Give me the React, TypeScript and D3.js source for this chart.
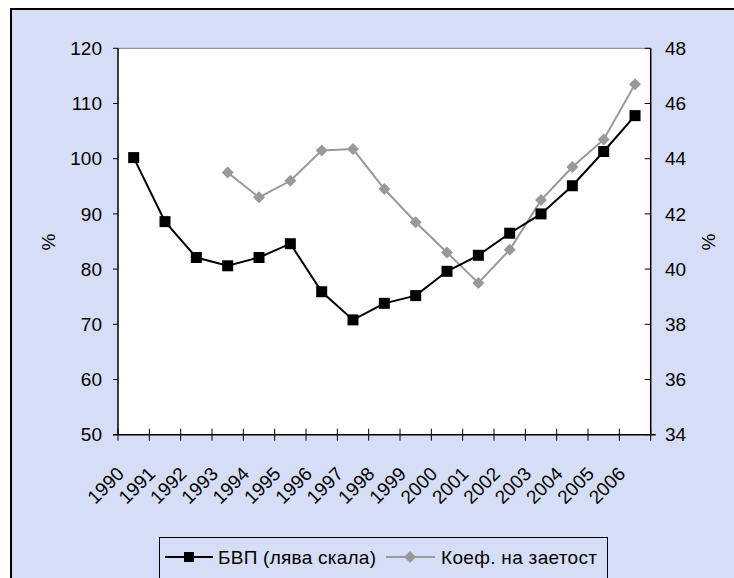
import React from "react";
import * as d3 from "d3";

const years = ["1990","1991","1992","1993","1994","1995","1996","1997","1998","1999","2000","2001","2002","2003","2004","2005","2006"];
const gdp: (number | null)[] = [100.2, 88.6, 82.1, 80.6, 82.1, 84.6, 75.9, 70.8, 73.8, 75.2, 79.6, 82.5, 86.5, 90.0, 95.1, 101.3, 107.8];
const employment: (number | null)[] = [null, null, null, 43.5, 42.6, 43.2, 44.3, 44.35, 42.9, 41.7, 40.6, 39.5, 40.7, 42.5, 43.7, 44.7, 46.7];
const leftTicks = [50, 60, 70, 80, 90, 100, 110, 120];
const rightTicks = [34, 36, 38, 40, 42, 44, 46, 48];
const legendLabels = ["БВП (лява скала)", "Коеф. на заетост"];

const W = 734, H = 578;
const L = 118, R = 650.7, T = 48.3, B = 434.7;
const BG = "#D6DEF7";
const GRAY = "#999999";
const FONT = "Arial, 'Liberation Sans', sans-serif";
const FS = 19;

export default function App() {
  const x = d3.scaleBand<string>().domain(years).range([L, R]);
  const yL = d3.scaleLinear().domain([50, 120]).range([B, T]);
  const yR = d3.scaleLinear().domain([34, 48]).range([B, T]);
  const cx = (i: number) => (x(years[i]) as number) + x.bandwidth() / 2;

  const lineL = d3.line<number | null>()
    .defined(d => d != null)
    .x((_, i) => cx(i))
    .y(d => yL(d as number));
  const lineR = d3.line<number | null>()
    .defined(d => d != null)
    .x((_, i) => cx(i))
    .y(d => yR(d as number));

  const boundaries = d3.range(years.length + 1).map(i => L + i * x.step());

  return (
    <svg width={W} height={H} style={{ position: "absolute", left: 0, top: 0 }} fontFamily={FONT}>
      <rect x={11} y={9} width={W + 20} height={H + 20} fill={BG} stroke="#000" strokeWidth={2} />
      <rect x={L} y={T} width={R - L} height={B - T} fill="#fff" />
      <line x1={L} x2={R} y1={T} y2={T} stroke="#808080" strokeWidth={1} />
      {/* axes */}
      <line x1={L} x2={L} y1={T} y2={B} stroke="#000" strokeWidth={1.5} />
      <line x1={R} x2={R} y1={T} y2={B} stroke="#000" strokeWidth={1.5} />
      <line x1={L - 5} x2={R + 5} y1={B} y2={B} stroke="#000" strokeWidth={1.5} />
      {leftTicks.map(t => (
        <g key={"l" + t}>
          <line x1={L - 5} x2={L} y1={yL(t)} y2={yL(t)} stroke="#000" strokeWidth={1} />
          <text x={102} y={yL(t)} dy="0.35em" textAnchor="end" fontSize={FS} fill="#000">{t}</text>
        </g>
      ))}
      {rightTicks.map(t => (
        <g key={"r" + t}>
          <line x1={R - 6} x2={R} y1={yR(t)} y2={yR(t)} stroke="#000" strokeWidth={1} />
          <text x={665} y={yR(t)} dy="0.35em" textAnchor="start" fontSize={FS} fill="#000">{t}</text>
        </g>
      ))}
      {boundaries.map((bx, i) => (
        <line key={"xt" + i} x1={bx} x2={bx} y1={B - 6} y2={B + 6} stroke="#000" strokeWidth={1} />
      ))}
      {years.map((yr, i) => (
        <text key={yr} transform={`translate(${cx(i) - 8.5},${475}) rotate(-45)`} textAnchor="end" fontSize={FS} fill="#000">{yr}</text>
      ))}
      <text transform="translate(48,242) rotate(-90)" textAnchor="middle" dy="0.35em" fontSize={FS}>%</text>
      <text transform="translate(708,242) rotate(-90)" textAnchor="middle" dy="0.35em" fontSize={FS}>%</text>
      {/* series */}
      <path d={lineR(employment) || ""} fill="none" stroke={GRAY} strokeWidth={2} />
      <path d={lineL(gdp) || ""} fill="none" stroke="#000" strokeWidth={2} />
      {employment.map((v, i) => v == null ? null : (
        <path key={"e" + i} d={`M${cx(i)},${yR(v) - 6}L${cx(i) + 6},${yR(v)}L${cx(i)},${yR(v) + 6}L${cx(i) - 6},${yR(v)}Z`} fill={GRAY} />
      ))}
      {gdp.map((v, i) => v == null ? null : (
        <rect key={"g" + i} x={cx(i) - 5.5} y={yL(v) - 5.5} width={11} height={11} fill="#000" />
      ))}
      {/* legend */}
      <rect x={159.5} y={537.5} width={448} height={60} fill={BG} stroke="#000" strokeWidth={1} />
      <line x1={165} x2={213} y1={557} y2={557} stroke="#000" strokeWidth={2} />
      <rect x={184} y={552} width={10} height={10} fill="#000" />
      <text x={218} y={557} dy="0.35em" fontSize={FS} textLength={158} lengthAdjust="spacing">{legendLabels[0]}</text>
      <line x1={386} x2={435} y1={557} y2={557} stroke={GRAY} strokeWidth={2} />
      <path d="M410,551L416,557L410,563L404,557Z" fill={GRAY} />
      <text x={441} y={557} dy="0.35em" fontSize={FS} textLength={156} lengthAdjust="spacing">{legendLabels[1]}</text>
    </svg>
  );
}
